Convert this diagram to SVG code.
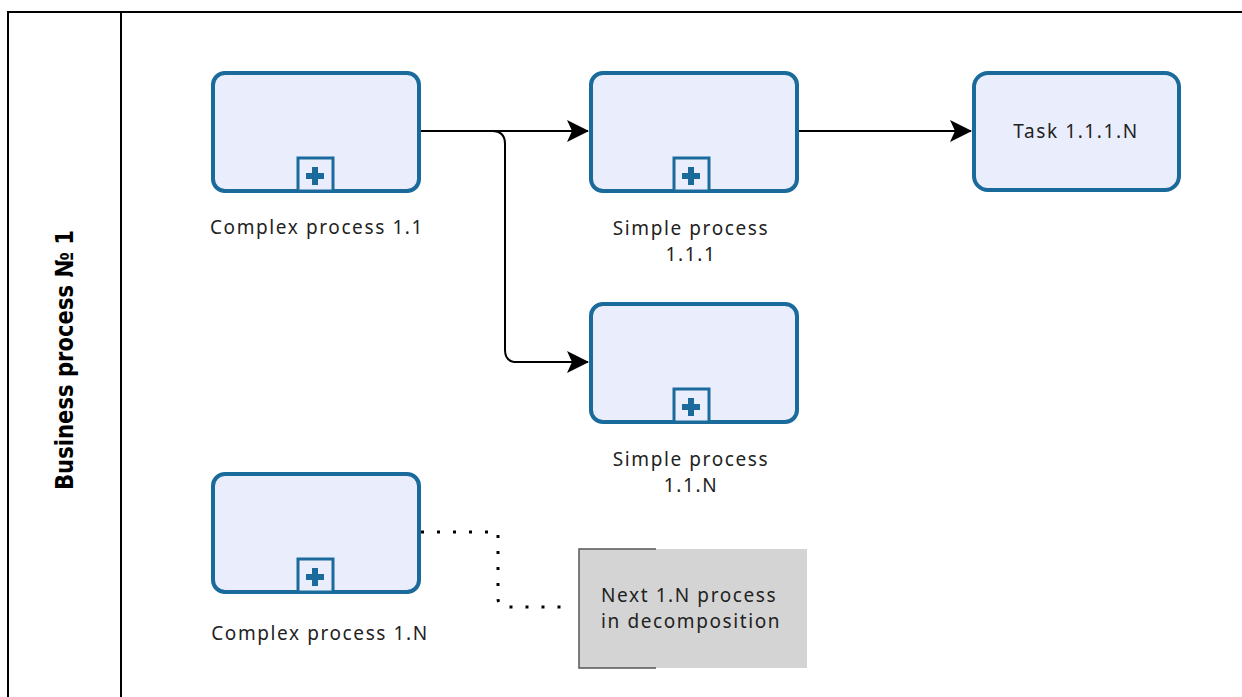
<svg xmlns="http://www.w3.org/2000/svg" width="1242" height="697" viewBox="0 0 1242 697">
<defs>
<style>
.task{fill:#eaedfc;stroke:#1a6b9b;stroke-width:4}
.mk{fill:#eaedfc;stroke:#1a6b9b;stroke-width:3}
.plus{fill:#1a6b9b}
.lbl{font-family:"Noto Sans","Open Sans",sans-serif;font-size:19px;letter-spacing:1.6px;fill:#222}
.flow{fill:none;stroke:#000;stroke-width:2}
.dot{fill:none;stroke:#000;stroke-width:3;stroke-dasharray:3 13}
</style>
<marker id="arr" viewBox="0 0 22 22" refX="21" refY="11" markerWidth="22" markerHeight="22" markerUnits="userSpaceOnUse" orient="auto">
<path d="M0,0 L22,11 L0,22 L5,11 Z" fill="#000"/>
</marker>
<g id="plusMarker">
<rect class="mk" x="-17" y="-32" width="35" height="33"/>
<path class="plus" d="M-3,-23 h6 v6 h6 v6 h-6 v6 h-6 v-6 h-6 v-6 h6 Z"/>
</g>
</defs>
<rect width="1242" height="697" fill="#fff"/>
<g id="pool">
<path d="M1242,12 H8 V697" fill="none" stroke="#000" stroke-width="2"/>
<line x1="121" y1="12" x2="121" y2="697" stroke="#000" stroke-width="2"/>
<text transform="translate(73,360) rotate(-90)" text-anchor="middle" font-family="'DejaVu Sans Condensed','Liberation Sans Narrow','DejaVu Sans',sans-serif" font-weight="bold" font-size="25" textLength="260" lengthAdjust="spacingAndGlyphs" fill="#000">Business process № 1</text>
</g>
<g id="connectors">
<path class="flow" d="M419,131 H588" marker-end="url(#arr)"/>
<path class="flow" d="M492,131 Q505,131 505,144 V350 Q505,362 517,362 H588" marker-end="url(#arr)"/>
<path class="flow" d="M797,131 H971" marker-end="url(#arr)"/>
<path class="dot" d="M421,532 H498 V598 Q498,607 507,607 H572"/>
</g>
<g id="complex11">
<rect class="task" x="213" y="73" width="206" height="118" rx="12"/>
<use href="#plusMarker" x="315" y="190"/>
<text class="lbl" x="317" y="234" text-anchor="middle">Complex process 1.1</text>
</g>
<g id="simple111">
<rect class="task" x="591" y="73" width="206" height="118" rx="12"/>
<use href="#plusMarker" x="691" y="190"/>
<text class="lbl" x="691" y="235" text-anchor="middle">Simple process</text>
<text class="lbl" x="691" y="261" text-anchor="middle">1.1.1</text>
</g>
<g id="task111N">
<rect class="task" x="974" y="73" width="205" height="117" rx="14"/>
<text class="lbl" x="1076" y="138" text-anchor="middle">Task 1.1.1.N</text>
</g>
<g id="simple11N">
<rect class="task" x="591" y="304" width="206" height="118" rx="12"/>
<use href="#plusMarker" x="691" y="421"/>
<text class="lbl" x="691" y="466" text-anchor="middle">Simple process</text>
<text class="lbl" x="691" y="492" text-anchor="middle">1.1.N</text>
</g>
<g id="complex1N">
<rect class="task" x="213" y="474" width="206" height="118" rx="12"/>
<use href="#plusMarker" x="315" y="591"/>
<text class="lbl" x="320" y="640" text-anchor="middle">Complex process 1.N</text>
</g>
<g id="annotation">
<rect x="579" y="549" width="228" height="119" fill="#d4d4d4"/>
<path d="M656,549 H579 V668 H656" fill="none" stroke="#555" stroke-width="1.5"/>
<text class="lbl" x="601" y="602">Next 1.N process</text>
<text class="lbl" x="601" y="628">in decomposition</text>
</g>
</svg>
